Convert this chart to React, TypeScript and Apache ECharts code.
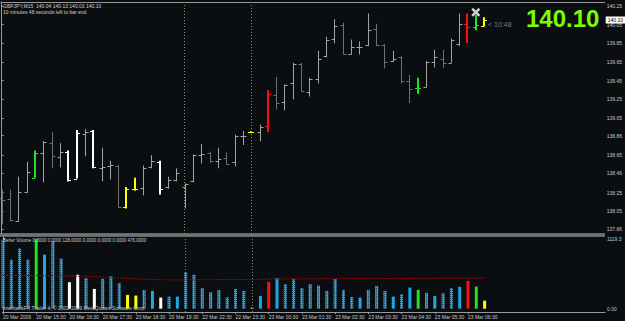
import React, { useEffect, useRef } from 'react';
import * as echarts from 'echarts';

// ---- OHLC (M15 bars, index 0 = 20 Mar 14:30) ----
const opens = [138.19,138.18,137.95,138.26,138.41,138.67,138.78,138.63,138.69,138.40,138.88,138.91,138.51,138.54,138.53,138.10,138.29,138.30,138.52,138.58,138.31,138.39,138.31,138.37,138.65,138.67,138.59,138.62,138.58,138.86,138.90,138.90,138.96,139.30,139.22,139.42,139.63,139.33,139.47,139.71,139.90,140.05,139.74,139.81,139.83,140.00,139.83,139.66,139.70,139.45,139.37,139.38,139.65,139.68,139.64,139.84,140.06,140.02,140.04];
const highs = [138.28,138.28,138.42,138.58,138.70,138.80,138.90,138.78,138.70,138.92,138.93,138.92,138.73,138.59,138.54,138.31,138.41,138.54,138.65,138.59,138.42,138.51,138.35,138.66,138.77,138.69,138.73,138.68,138.87,138.91,138.91,138.98,139.35,139.49,139.41,139.64,139.64,139.48,139.77,139.92,140.11,140.07,139.89,139.87,140.17,140.06,139.84,139.77,139.71,139.51,139.48,139.66,139.78,139.78,139.90,140.17,140.17,140.15,140.13];
const lows = [137.91,137.94,137.94,138.25,138.41,138.36,138.51,138.52,138.37,138.40,138.64,138.51,138.37,138.39,138.09,138.08,138.27,138.22,138.51,138.23,138.29,138.37,138.08,138.36,138.56,138.57,138.51,138.55,138.53,138.76,138.89,138.80,138.90,139.14,139.13,139.25,139.33,139.28,139.42,139.70,139.85,139.73,139.73,139.73,139.82,139.82,139.58,139.65,139.42,139.21,139.31,139.38,139.59,139.59,139.64,139.82,139.85,139.99,140.03];
const closes = [138.17,137.96,138.26,138.47,138.67,138.79,138.64,138.69,138.39,138.89,138.90,138.52,138.52,138.55,138.10,138.29,138.29,138.51,138.59,138.29,138.39,138.46,138.34,138.65,138.66,138.59,138.61,138.56,138.86,138.86,138.90,138.95,139.31,139.21,139.40,139.63,139.34,139.47,139.68,139.89,140.04,139.74,139.81,139.81,139.99,139.83,139.65,139.68,139.45,139.36,139.37,139.65,139.70,139.64,139.89,140.06,140.03,140.05,140.10];

// ---- Better Volume ----
const volumes = [1100,782,958,782,1110,862,1076,798,423,541,487,316,477,519,407,220,209,300,284,177,193,193,578,541,327,262,295,182,316,284,15,204,428,487,391,471,327,391,369,284,471,300,187,177,300,364,284,193,230,337,300,252,204,246,327,348,444,353,128];
// n = normal (blue), g = green, w = white, y = yellow, r = red
const barClass = ['n','n','n','n','g','n','n','n','w','w','n','w','n','n','n','y','y','n','n','w','n','n','n','n','n','n','n','n','n','n','y','n','r','n','n','n','n','n','n','n','n','n','n','n','n','n','n','n','n','n','g','n','n','n','n','n','r','g','y'];
const hatched = [1,1,1,1,0,0,1,1,0,0,1,0,1,1,1,0,0,1,0,0,1,0,1,1,1,1,1,1,1,1,0,0,0,0,1,1,1,1,1,1,1,1,1,0,1,1,1,0,1,0,0,1,0,1,1,0,0,0,0];
const volumeMA = [533,533,532,531,530,528,526,524,521,518,515,510,505,498,490,482,476,470,466,462,460,458,458,460,462,463,464,464,465,465,466,466,472,474,475,476,476,477,477,478,478,479,479,480,480,481,481,482,482,483,483,483,484,484,485,485,486,486,486];

// ---- axes ----
const timeTickIndex = [0,4,8,12,16,20,24,28,32,36,40,44,48,52,56];
const timeTickLabels = ['20 Mar 2009','20 Mar 15:30','20 Mar 16:30','20 Mar 17:30','20 Mar 18:30','20 Mar 19:30','22 Mar 22:30','22 Mar 23:30','23 Mar 00:30','23 Mar 01:30','23 Mar 02:30','23 Mar 03:30','23 Mar 04:30','23 Mar 05:30','23 Mar 06:30'];
const priceTicks = [137.86,138.05,138.25,138.46,138.65,138.86,139.05,139.25,139.45,139.65,139.85,140.05,140.25];
const volumeTicks = [0, 1119.3];
const daySeparators = [22, 30];
const currentPrice = 140.10;
const markerPoint = [[57, 140.182]];

const FONT = 'Liberation Sans';
const classColor: Record<string, string> = { g: '#22e022', w: '#ffffff', y: '#ffff00', r: '#ff1010' };

export default function App() {
  const ref = useRef<HTMLDivElement>(null);
  useEffect(() => {
    const chart = echarts.init(ref.current!, null, { renderer: 'svg' });
    const ohlc = opens.map((o, i) => [i, o, highs[i], lows[i], closes[i]]);
    const xMin = -0.084, xMax = 72.5;

    const option: any = {
      animation: false,
      backgroundColor: '#0b0e11',
      grid: [
        { left: 1, right: 20, top: 2, height: 232 },
        { left: 1, right: 20, top: 237, height: 75 },
      ],
      xAxis: [
        { type: 'value', gridIndex: 0, min: xMin, max: xMax, position: 'top',
          axisLine: { show: true, onZero: false, lineStyle: { color: '#9a9a9a' } },
          axisTick: { show: false }, axisLabel: { show: false }, splitLine: { show: false } },
        { type: 'value', gridIndex: 1, min: xMin, max: xMax, position: 'bottom',
          axisLine: { show: true, onZero: false, lineStyle: { color: '#9a9a9a' } },
          axisTick: { show: true, length: 2, customValues: timeTickIndex, lineStyle: { color: '#9a9a9a' } },
          axisLabel: { show: true, customValues: timeTickIndex, align: 'left', margin: 2, fontSize: 5, color: '#c8c8c8', fontFamily: FONT,
            formatter: (v: number) => timeTickLabels[timeTickIndex.indexOf(Math.round(v))] ?? '' },
          splitLine: { show: false } },
      ],
      yAxis: [
        { type: 'value', gridIndex: 0, position: 'right', min: 137.806, max: 140.293,
          axisLine: { show: true, lineStyle: { color: '#9a9a9a' } },
          axisTick: { show: true, length: 2, customValues: priceTicks, lineStyle: { color: '#9a9a9a' } },
          axisLabel: { customValues: priceTicks, formatter: (v: number) => v.toFixed(2), fontSize: 5, margin: 2, color: '#c8c8c8', fontFamily: FONT },
          splitLine: { show: false } },
        { type: 'value', gridIndex: 1, position: 'right', min: -52.6, max: 1143.3,
          axisLine: { show: true, lineStyle: { color: '#9a9a9a' } },
          axisTick: { show: true, length: 2, customValues: volumeTicks, lineStyle: { color: '#9a9a9a' } },
          axisLabel: { customValues: volumeTicks, formatter: (v: number) => (v < 1 ? '0.00' : '1119.3'), fontSize: 5, margin: 2, color: '#c8c8c8', fontFamily: FONT },
          splitLine: { show: false } },
      ],
      series: [
        {
          type: 'custom', xAxisIndex: 0, yAxisIndex: 0, data: ohlc,
          encode: { x: 0, y: [1, 2, 3, 4] },
          renderItem: (params: any, api: any) => {
            const i = params.dataIndex;
            const x = api.value(0);
            const pH = api.coord([x, api.value(2)]);
            const pL = api.coord([x, api.value(3)]);
            const pO = api.coord([x, api.value(1)]);
            const pC = api.coord([x, api.value(4)]);
            const cls = barClass[i];
            const colored = cls !== 'n';
            const up = api.value(4) >= api.value(1);
            const stroke = colored ? classColor[cls] : (up ? '#a4a4a4' : '#707070');
            const lw = colored ? 2 : 1;
            const px = colored ? Math.round(pH[0]) : Math.round(pH[0]) + 0.5;
            const oy = Math.round(pO[1]) + 0.5, cy = Math.round(pC[1]) + 0.5;
            const style = { stroke, lineWidth: lw };
            return {
              type: 'group',
              children: [
                { type: 'line', shape: { x1: px, y1: pH[1], x2: px, y2: pL[1] }, style },
                { type: 'line', shape: { x1: px - 3, y1: oy, x2: px, y2: oy }, style: { stroke, lineWidth: 1 } },
                { type: 'line', shape: { x1: px, y1: cy, x2: px + 3, y2: cy }, style: { stroke, lineWidth: 1 } },
              ],
            };
          },
          markLine: {
            silent: true, symbol: 'none', label: { show: false },
            lineStyle: { color: '#8a8672', type: [1, 2], width: 1 },
            data: daySeparators.map((d) => ({ xAxis: d })),
          },
          z: 3,
        },
        {
          type: 'scatter', xAxisIndex: 0, yAxisIndex: 0, data: markerPoint,
          symbol: 'path://M0,2L2,0L5,3L8,0L10,2L7,5L10,8L8,10L5,7L2,10L0,8L3,5Z', symbolSize: 9,
          itemStyle: { color: '#ffffff' }, z: 5,
          markLine: {
            silent: true, symbol: 'none',
            lineStyle: { color: 'rgba(0,0,0,0)', width: 1 },
            label: { show: true, position: 'end', distance: 1, formatter: () => currentPrice.toFixed(2), color: '#000000', backgroundColor: '#ffffff', fontSize: 5, padding: [1, 2, 1, 2], fontFamily: FONT },
            data: [{ yAxis: currentPrice }],
          },
        },
        {
          type: 'bar', xAxisIndex: 1, yAxisIndex: 1, barWidth: 3,
          data: volumes.map((v, i) => {
            const cls = barClass[i];
            const item: any = { value: [i, v], itemStyle: { color: cls === 'n' ? '#1ea7e1' : classColor[cls] } };
            if (cls === 'n' && hatched[i]) {
              item.itemStyle.decal = { symbol: 'rect', symbolSize: 1, dashArrayX: [1, 1], dashArrayY: [1, 1], color: 'rgba(10,30,45,0.75)' };
            }
            return item;
          }),
          markLine: {
            silent: true, symbol: 'none', label: { show: false },
            lineStyle: { color: '#8a8672', type: [1, 2], width: 1 },
            data: daySeparators.map((d) => ({ xAxis: d })),
          },
          z: 3,
        },
        {
          type: 'line', xAxisIndex: 1, yAxisIndex: 1, data: volumeMA.map((v, i) => [i, v]),
          symbol: 'none', lineStyle: { color: '#a00000', width: 1, type: [2, 1] }, z: 4,
        },
      ],
      graphic: [
        { type: 'rect', shape: { x: 0, y: 233.5, width: 605, height: 3 }, style: { fill: '#3c3c3c' }, z: 10 },
        { type: 'line', shape: { x1: 0, y1: 234, x2: 605, y2: 234 }, style: { stroke: '#a8a8a8', lineWidth: 1 }, z: 11 },
        { type: 'line', shape: { x1: 0, y1: 236, x2: 605, y2: 236 }, style: { stroke: '#a8a8a8', lineWidth: 1 }, z: 11 },
        { type: 'text', x: 3, y: 3, style: { text: 'GBPJPY,M15  140.04 140.13 140.03 140.10', fill: '#d0d0d0', fontSize: 5, fontFamily: FONT } },
        { type: 'text', x: 3, y: 9, style: { text: '10 minutes 48 seconds left to bar end', fill: '#d0d0d0', fontSize: 5, fontFamily: FONT } },
        { type: 'text', x: 526, y: 18, style: { text: '140.10', fill: '#7cfc00', fontSize: 24, fontWeight: 'bold', fontFamily: FONT, verticalAlign: 'middle' } },
        { type: 'text', x: 488, y: 24, style: { text: '< 10:48', fill: '#7c7c7c', fontSize: 7, fontFamily: FONT, verticalAlign: 'middle' } },
        { type: 'text', x: 3, y: 238, style: { text: 'Better Volume 0.0000 0.0000 128.0000 0.0000 0.0000 0.0000 476.0000', fill: '#d0d0d0', fontSize: 4.5, fontFamily: FONT }, z: 10 },
        { type: 'text', x: 3, y: 305, style: { text: 'InterbankFX Trader 4, © 2001-2009 MetaQuotes Software Corp.', fill: '#c8c8c8', fontSize: 5, fontFamily: FONT }, z: 10 },
      ],
    };
    chart.setOption(option);
    return () => chart.dispose();
  }, []);
  return <div ref={ref} style={{ position: 'absolute', left: 0, top: 0, width: 625, height: 321 }} />;
}
